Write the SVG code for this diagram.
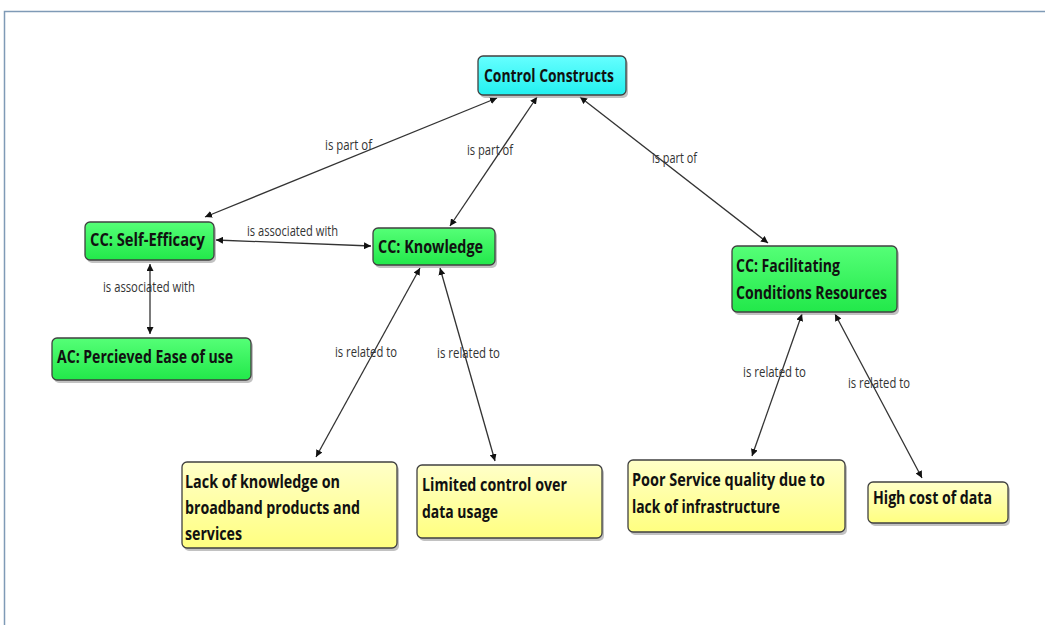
<svg xmlns="http://www.w3.org/2000/svg" width="1045" height="625" viewBox="0 0 1045 625">
  <style>
    .node rect.box { stroke: #404040; stroke-width: 1.3; }
    .node rect.shadow { fill: #9a9a9a; opacity: 0.6; }
    .node text { font-family: "Open Sans", "Noto Sans", "Liberation Sans", sans-serif; font-weight: bold; font-size: 18px; fill: #111; }
    .edge { stroke: #333; stroke-width: 1.3; fill: none; marker-start: url(#head); marker-end: url(#head); }
    .lbl { font-family: "Open Sans", "Noto Sans", "Liberation Sans", sans-serif; font-size: 14px; fill: #333; }
  </style>
  <defs>
    <linearGradient id="gCyan" x1="0" y1="0" x2="0" y2="1">
      <stop offset="0" stop-color="#66ffff"/>
      <stop offset="1" stop-color="#22f0f0"/>
    </linearGradient>
    <linearGradient id="gGreen" x1="0" y1="0" x2="0" y2="1">
      <stop offset="0" stop-color="#55ff77"/>
      <stop offset="1" stop-color="#22e84a"/>
    </linearGradient>
    <linearGradient id="gYellow" x1="0" y1="0" x2="0" y2="1">
      <stop offset="0" stop-color="#ffffc8"/>
      <stop offset="1" stop-color="#ffff80"/>
    </linearGradient>
    <marker id="head" viewBox="0 0 10 10" refX="10" refY="5" markerWidth="7" markerHeight="7" markerUnits="userSpaceOnUse" orient="auto-start-reverse">
      <path d="M0,0 L10,5 L0,10 z" fill="#111"/>
    </marker>
  </defs>

  <rect x="0" y="0" width="1045" height="625" fill="#fff"/>
  <!-- frame -->
  <path d="M4.5,625 V11.5 H1045" fill="none" stroke="#7f9ab6" stroke-width="1.5"/>

  <!-- connectors -->
  <g id="connectors">
    <line class="edge" x1="497" y1="98" x2="205" y2="217"/>
    <line class="edge" x1="537" y1="97" x2="450" y2="226"/>
    <line class="edge" x1="580" y1="97" x2="768" y2="243"/>
    <line class="edge" x1="216" y1="240" x2="371" y2="246"/>
    <line class="edge" x1="150" y1="264" x2="150" y2="334"/>
    <line class="edge" x1="420" y1="268" x2="316" y2="457"/>
    <line class="edge" x1="440" y1="268" x2="495" y2="461"/>
    <line class="edge" x1="802" y1="314" x2="752" y2="456"/>
    <line class="edge" x1="835" y1="314" x2="922" y2="478"/>
    <text class="lbl" x="325" y="150" textLength="47" lengthAdjust="spacingAndGlyphs">is part of</text>
    <text class="lbl" x="467" y="155" textLength="46" lengthAdjust="spacingAndGlyphs">is part of</text>
    <text class="lbl" x="652" y="163" textLength="45" lengthAdjust="spacingAndGlyphs">is part of</text>
    <text class="lbl" x="247" y="236" textLength="91" lengthAdjust="spacingAndGlyphs">is associated with</text>
    <text class="lbl" x="103" y="292" textLength="92" lengthAdjust="spacingAndGlyphs">is associated with</text>
    <text class="lbl" x="335" y="357" textLength="62" lengthAdjust="spacingAndGlyphs">is related to</text>
    <text class="lbl" x="437" y="358" textLength="63" lengthAdjust="spacingAndGlyphs">is related to</text>
    <text class="lbl" x="743" y="377" textLength="63" lengthAdjust="spacingAndGlyphs">is related to</text>
    <text class="lbl" x="848" y="388" textLength="62" lengthAdjust="spacingAndGlyphs">is related to</text>
  </g>

  <g id="control-constructs" class="node">
    <rect class="shadow" x="480" y="59" width="148" height="39" rx="5"/>
    <rect class="box" x="478" y="56" width="148" height="39" rx="5" fill="url(#gCyan)"/>
    <text x="484" y="82" textLength="130" lengthAdjust="spacingAndGlyphs">Control Constructs</text>
  </g>

  <g id="self-efficacy" class="node">
    <rect class="shadow" x="87" y="225" width="129" height="38" rx="5"/>
    <rect class="box" x="85" y="222" width="129" height="38" rx="5" fill="url(#gGreen)"/>
    <text x="90" y="246" textLength="115" lengthAdjust="spacingAndGlyphs">CC: Self-Efficacy</text>
  </g>

  <g id="knowledge" class="node">
    <rect class="shadow" x="375" y="231" width="122" height="37" rx="5"/>
    <rect class="box" x="373" y="228" width="122" height="37" rx="5" fill="url(#gGreen)"/>
    <text x="378" y="253" textLength="105" lengthAdjust="spacingAndGlyphs">CC: Knowledge</text>
  </g>

  <g id="ease-of-use" class="node">
    <rect class="shadow" x="54" y="341" width="199" height="42" rx="5"/>
    <rect class="box" x="52" y="338" width="199" height="42" rx="5" fill="url(#gGreen)"/>
    <text x="57" y="363" textLength="176" lengthAdjust="spacingAndGlyphs">AC: Percieved Ease of use</text>
  </g>

  <g id="facilitating-conditions" class="node">
    <rect class="shadow" x="734" y="249" width="165" height="66" rx="5"/>
    <rect class="box" x="732" y="246" width="165" height="66" rx="5" fill="url(#gGreen)"/>
    <text x="736" y="272" textLength="104" lengthAdjust="spacingAndGlyphs">CC: Facilitating</text>
    <text x="736" y="299" textLength="151" lengthAdjust="spacingAndGlyphs">Conditions Resources</text>
  </g>

  <g id="lack-of-knowledge" class="node">
    <rect class="shadow" x="184" y="465" width="215" height="86" rx="5"/>
    <rect class="box" x="182" y="462" width="215" height="86" rx="5" fill="url(#gYellow)"/>
    <text x="185" y="488" textLength="155" lengthAdjust="spacingAndGlyphs">Lack of knowledge on</text>
    <text x="185" y="514" textLength="175" lengthAdjust="spacingAndGlyphs">broadband products and</text>
    <text x="185" y="540" textLength="57" lengthAdjust="spacingAndGlyphs">services</text>
  </g>

  <g id="limited-control" class="node">
    <rect class="shadow" x="419" y="468" width="185" height="73" rx="5"/>
    <rect class="box" x="417" y="465" width="185" height="73" rx="5" fill="url(#gYellow)"/>
    <text x="422" y="491" textLength="145" lengthAdjust="spacingAndGlyphs">Limited control over</text>
    <text x="422" y="518" textLength="76" lengthAdjust="spacingAndGlyphs">data usage</text>
  </g>

  <g id="poor-service" class="node">
    <rect class="shadow" x="630" y="463" width="217" height="72" rx="5"/>
    <rect class="box" x="628" y="460" width="217" height="72" rx="5" fill="url(#gYellow)"/>
    <text x="632" y="486" textLength="193" lengthAdjust="spacingAndGlyphs">Poor Service quality due to</text>
    <text x="632" y="513" textLength="148" lengthAdjust="spacingAndGlyphs">lack of infrastructure</text>
  </g>

  <g id="high-cost" class="node">
    <rect class="shadow" x="870" y="485" width="140" height="41" rx="5"/>
    <rect class="box" x="868" y="482" width="140" height="41" rx="5" fill="url(#gYellow)"/>
    <text x="873" y="504" textLength="119" lengthAdjust="spacingAndGlyphs">High cost of data</text>
  </g>
</svg>
